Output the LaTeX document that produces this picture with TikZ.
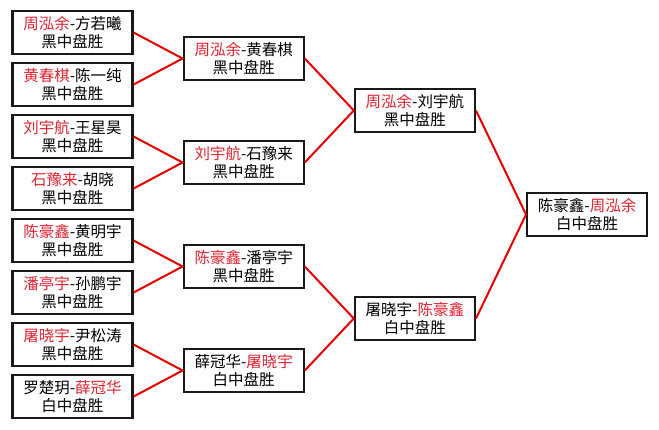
\documentclass[tikz,border=0pt]{standalone}
\usepackage{fontspec}
\setmainfont{Noto Sans CJK SC}
\usetikzlibrary{calc, positioning}
\definecolor{winred}{RGB}{225,35,50}
\definecolor{linkred}{RGB}{230,0,0}
\newcommand{\win}[1]{\textcolor{winred}{#1}}

\begin{document}
\begin{tikzpicture}[
          node distance=6.8pt,
          box/.style={rectangle, draw=black!90, line width=2.2pt, fill=white, minimum width=120pt, minimum height=43pt, inner sep=0pt, align=center, font=\fontsize{15.5pt}{18pt}\selectfont},
          link/.style={draw=linkred, line width=2pt}
        ]
          \useasboundingbox (0,0) rectangle (659pt,-429pt);

          \node[box] (q1) at (72.5pt,-32.5pt) {\win{周泓余}-方若曦\\黑中盘胜};
          \node[box, below=of q1] (q2) {\win{黄春棋}-陈一纯\\黑中盘胜};
          \node[box, below=of q2] (q3) {\win{刘宇航}-王星昊\\黑中盘胜};
          \node[box, below=of q3] (q4) {\win{石豫来}-胡晓\\黑中盘胜};
          \node[box, below=of q4] (q5) {\win{陈豪鑫}-黄明宇\\黑中盘胜};
          \node[box, below=of q5] (q6) {\win{潘亭宇}-孙鹏宇\\黑中盘胜};
          \node[box, below=of q6] (q7) {\win{屠晓宇}-尹松涛\\黑中盘胜};
          \node[box, below=of q7] (q8) {罗楚玥-\win{薛冠华}\\白中盘胜};

          \coordinate (m12) at ($(q1.east)!0.5!(q2.east)$);
          \coordinate (m34) at ($(q3.east)!0.5!(q4.east)$);
          \coordinate (m56) at ($(q5.east)!0.5!(q6.east)$);
          \coordinate (m78) at ($(q7.east)!0.5!(q8.east)$);
          \node[box, right=49pt of m12] (s1) {\win{周泓余}-黄春棋\\黑中盘胜};
          \node[box, right=49pt of m34] (s2) {\win{刘宇航}-石豫来\\黑中盘胜};
          \node[box, right=49pt of m56] (s3) {\win{陈豪鑫}-潘亭宇\\黑中盘胜};
          \node[box, right=49pt of m78] (s4) {薛冠华-\win{屠晓宇}\\白中盘胜};

          \coordinate (n12) at ($(s1.east)!0.5!(s2.east)$);
          \coordinate (n34) at ($(s3.east)!0.5!(s4.east)$);
          \node[box, right=49pt of n12] (t1) {\win{周泓余}-刘宇航\\黑中盘胜};
          \node[box, right=49pt of n34] (t2) {屠晓宇-\win{陈豪鑫}\\白中盘胜};

          \coordinate (c12) at ($(t1.east)!0.5!(t2.east)$);
          \node[box, right=50pt of c12] (champ) {陈豪鑫-\win{周泓余}\\白中盘胜};

          \draw[link] (q1.east) -- (s1.west) -- (q2.east);
          \draw[link] (q3.east) -- (s2.west) -- (q4.east);
          \draw[link] (q5.east) -- (s3.west) -- (q6.east);
          \draw[link] (q7.east) -- (s4.west) -- (q8.east);
          \draw[link] (s1.east) -- (t1.west) -- (s2.east);
          \draw[link] (s3.east) -- (t2.west) -- (s4.east);
          \draw[link] (t1.east) -- (champ.west) -- (t2.east);
        \end{tikzpicture}
\end{document}
